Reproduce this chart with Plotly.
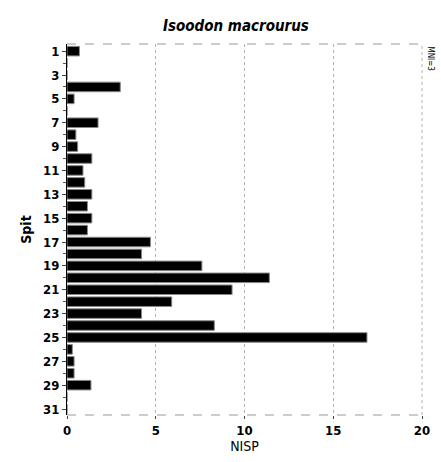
import plotly.graph_objects as go

spits = list(range(1, 32))
nisp = [0.7, 0, 0, 3.0, 0.4, 0, 1.75, 0.5, 0.6, 1.4,
        0.9, 1.0, 1.4, 1.15, 1.4, 1.15, 4.7, 4.2, 7.6, 11.4,
        9.3, 5.9, 4.2, 8.3, 16.9, 0.3, 0.4, 0.4, 1.35, 0, 0]
x_ticks = [0, 5, 10, 15, 20]
y_ticks = list(range(1, 32, 2))

font = "DejaVu Sans Condensed, Liberation Sans Narrow, sans-serif"

fig = go.Figure()
fig.add_trace(go.Bar(
    y=spits, x=nisp, orientation="h", width=0.8,
    marker=dict(color="black", line=dict(color="#888888", width=1)),
))

fig.update_layout(
    width=441, height=462,
    margin=dict(l=67, r=11, t=44, b=46),
    plot_bgcolor="white", paper_bgcolor="white",
    showlegend=False,
    title=dict(text="<b><i>Isoodon macrourus</i></b>", x=0.535, xanchor="center",
               y=0.945, yanchor="middle",
               font=dict(family=font, size=15, color="black")),
    font=dict(family=font, color="black"),
)
fig.update_xaxes(
    range=[0, 20], tickvals=x_ticks, ticktext=[f"<b>{v}</b>" for v in x_ticks],
    ticks="outside", ticklen=3,
    tickfont=dict(size=13, family=font),
    showgrid=True, gridcolor="#b0b0b0", griddash="dot", gridwidth=1,
    zeroline=False, showline=False,
    title=dict(text="NISP", font=dict(size=14, family=font), standoff=4),
)
fig.update_yaxes(
    range=[31.5, 0.4], tickvals=y_ticks, ticktext=[f"<b>{v}</b>" for v in y_ticks],
    ticks="outside", ticklen=4,
    tickfont=dict(size=13, family=font),
    minor=dict(tickvals=spits, ticks="outside", ticklen=3, tickcolor="#555555"),
    showgrid=False, zeroline=False,
    showline=True, linecolor="black", linewidth=1,
    title=dict(text="<b>Spit</b>", font=dict(size=14, family=font), standoff=8),
)
# frame: dashed top/bottom, dotted right
fig.add_shape(type="line", xref="paper", yref="paper", x0=0, x1=1, y0=1, y1=1,
              line=dict(color="#999999", width=1, dash="dash"))
fig.add_shape(type="line", xref="paper", yref="paper", x0=0, x1=1, y0=0, y1=0,
              line=dict(color="#999999", width=1, dash="dash"))
fig.add_shape(type="line", xref="paper", yref="paper", x0=1, x1=1, y0=0, y1=1,
              line=dict(color="#b0b0b0", width=1, dash="dot"))
fig.add_annotation(text="MNI=3", xref="paper", yref="paper", x=1.0, y=1.0,
                   xanchor="left", yanchor="top", xshift=2, textangle=90,
                   showarrow=False, font=dict(size=8, family=font, color="black"))

fig.write_html("out.html")
